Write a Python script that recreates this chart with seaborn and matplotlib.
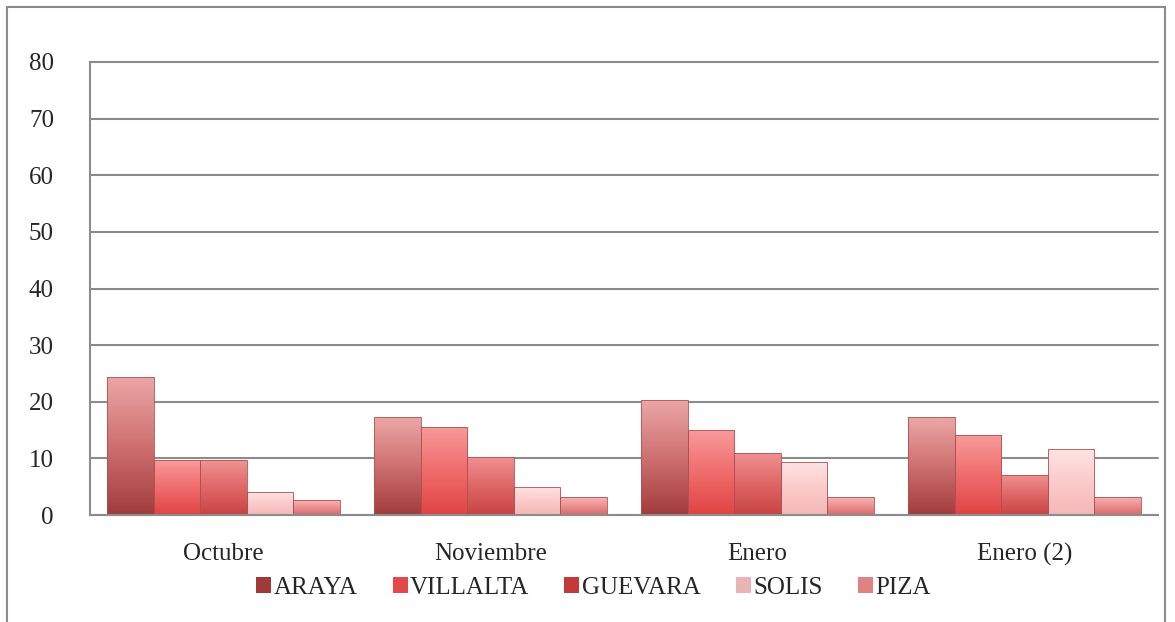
import matplotlib
matplotlib.use("Agg")
import matplotlib.pyplot as plt
import seaborn as sns
import pandas as pd
import numpy as np
from matplotlib.patches import Rectangle
from matplotlib.colors import to_rgb

categories = ["Octubre", "Noviembre", "Enero", "Enero (2)"]
series = ["ARAYA", "VILLALTA", "GUEVARA", "SOLIS", "PIZA"]
araya = [24.4, 17.3, 20.3, 17.3]
villalta = [9.7, 15.6, 15.0, 14.1]
guevara = [9.7, 10.3, 11.0, 7.1]
solis = [4.0, 5.0, 9.4, 11.6]
piza = [2.6, 3.1, 3.1, 3.2]
yticks = [0, 10, 20, 30, 40, 50, 60, 70, 80]

colors = ["#cf7070", "#f06c6c", "#e06666", "#fbcaca", "#ec9090"]
top_colors = ["#eba6a6", "#f89a9a", "#f09292", "#ffe4e4", "#f6b4b4"]
bottom_colors = ["#a23c3c", "#e04444", "#c84444", "#f4b8b8", "#d86a6a"]
legend_colors = ["#9e3a3a", "#e24a4a", "#c23a3a", "#e8b4b4", "#e08282"]

rows = []
for name, vals in zip(series, [araya, villalta, guevara, solis, piza]):
    for c, v in zip(categories, vals):
        rows.append({"Mes": c, "Nombre": name, "Valor": v})
df = pd.DataFrame(rows)

sns.set_theme(style="white")
plt.rcParams["font.family"] = ["Liberation Serif", "DejaVu Serif"]

fig = plt.figure(figsize=(11.75, 6.22), dpi=100)
ax = fig.add_axes([90 / 1175, 1 - 515 / 622, (1158 - 90) / 1175, (515 - 62) / 622])

sns.barplot(data=df, x="Mes", y="Valor", hue="Nombre", order=categories,
            hue_order=series, palette=colors, saturation=1, width=0.87, gap=0,
            edgecolor="#b05050", linewidth=0.6, ax=ax, legend=False, zorder=3)

ax.set_ylim(0, 80)
ax.set_xlim(-0.5, 3.5)

# gradient shading on each bar (bars are ordered by hue, then category)
bars = [p for p in ax.patches if isinstance(p, Rectangle)]
for i, p in enumerate(bars):
    k = i // len(categories)
    if k >= len(series):
        continue
    x0, y0, w, h = p.get_x(), p.get_y(), p.get_width(), p.get_height()
    t = np.linspace(0, 1, 64)[:, None]
    top = np.array(to_rgb(top_colors[k]))
    mid = np.array(to_rgb(colors[k]))
    bot = np.array(to_rgb(bottom_colors[k]))
    grad = np.where(t < 0.5, bot + (mid - bot) * (t / 0.5), mid + (top - mid) * ((t - 0.5) / 0.5))
    img = np.repeat(grad[:, None, :], 2, axis=1)[:, :, :] if False else np.repeat(grad.reshape(64, 1, 3), 2, axis=1)
    im = ax.imshow(img, extent=[x0, x0 + w, y0, y0 + h], origin="lower",
                   aspect="auto", zorder=3.5, interpolation="bilinear")
    im.set_clip_path(p)
    p.set_zorder(4)
    p.set_facecolor("none")

ax.set_xlim(-0.5, 3.5)
ax.set_ylim(0, 80)
ax.set_yticks(yticks)
ax.set_yticklabels([str(t) for t in yticks], fontsize=18)
ax.tick_params(axis="x", labelsize=18, length=0, pad=20)
ax.tick_params(axis="y", length=0, pad=26)
ax.set_xlabel("")
ax.set_ylabel("")
ax.yaxis.grid(True, color="#8c8c8c", linewidth=1.5, zorder=0)
for gl in ax.get_ygridlines():
    gl.set_clip_on(False)
ax.set_axisbelow(True)
for s in ["top", "right"]:
    ax.spines[s].set_visible(False)
for s in ["left", "bottom"]:
    ax.spines[s].set_color("#8c8c8c")
    ax.spines[s].set_linewidth(1.5)
    ax.spines[s].set_zorder(5)

handles = [Rectangle((0, 0), 1, 1, facecolor=c, edgecolor="none") for c in legend_colors]
fig.legend(handles, series, loc="center", bbox_to_anchor=(0.505, 1 - 588 / 622),
           ncol=5, frameon=False, fontsize=18, handlelength=0.6, handleheight=0.6,
           handletextpad=0.1, columnspacing=1.4)

fig.patches.append(Rectangle((7 / 1175, -0.05), (1165 - 7) / 1175, 1.05 - 7 / 622,
                             transform=fig.transFigure, fill=False,
                             edgecolor="#8c8c8c", linewidth=1.5))

fig.savefig("out.png", dpi=100, facecolor="white")
